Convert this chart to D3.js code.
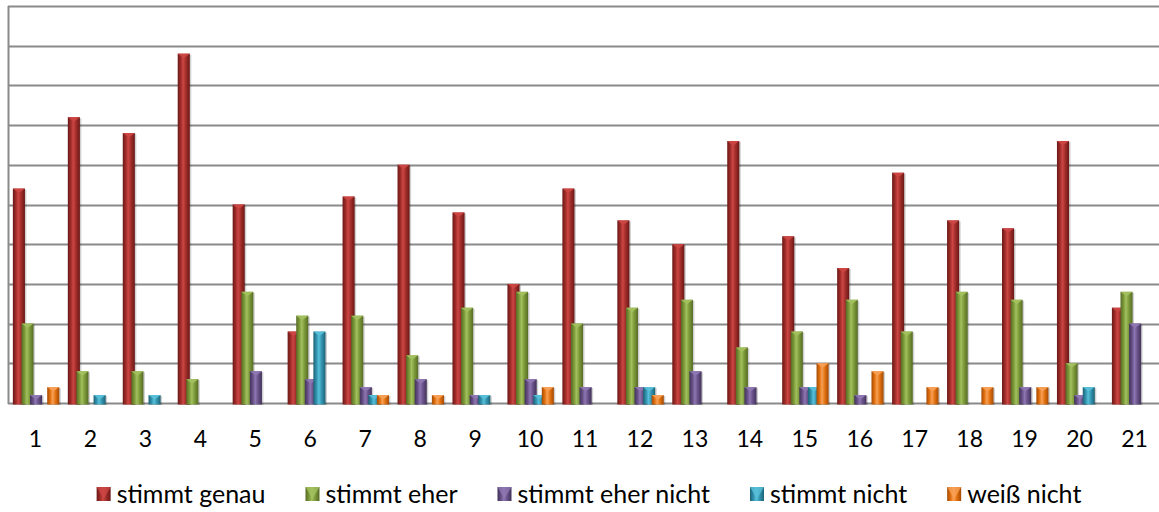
<!DOCTYPE html>
<html>
<head>
<meta charset="utf-8">
<script src="https://cdn.jsdelivr.net/npm/d3@7"></script>
<style>
  body { margin: 0; background: #fff; }
  svg { display: block; font-family: Lato, "Open Sans", sans-serif; }
  .tick-label { font-size: 23px; fill: #000; }
  .legend-label { font-size: 25px; fill: #000; }
</style>
</head>
<body>
<svg id="chart" width="1159" height="512"></svg>
<script>
// categories (question numbers)
const categories = d3.range(1, 22).map(String);

// series names
const seriesNames = ["stimmt genau", "stimmt eher", "stimmt eher nicht", "stimmt nicht", "weiß nicht"];

// values per series, one per question
const stimmtGenau     = [27, 36, 34, 44, 25, 9, 26, 30, 24, 15, 27, 23, 20, 33, 21, 17, 29, 23, 22, 33, 12];
const stimmtEher      = [10, 4, 4, 3, 14, 11, 11, 6, 12, 14, 10, 12, 13, 7, 9, 13, 9, 14, 13, 5, 14];
const stimmtEherNicht = [1, 0, 0, 0, 4, 3, 2, 3, 1, 3, 2, 2, 4, 2, 2, 1, 0, 0, 2, 1, 10];
const stimmtNicht     = [0, 1, 1, 0, 0, 9, 1, 0, 1, 1, 0, 2, 0, 0, 2, 0, 0, 0, 0, 2, 0];
const weissNicht      = [2, 0, 0, 0, 0, 0, 1, 1, 0, 2, 0, 1, 0, 0, 5, 4, 2, 2, 2, 0, 0];

const yTicks = d3.range(0, 55, 5);

const seriesValues = [stimmtGenau, stimmtEher, stimmtEherNicht, stimmtNicht, weissNicht];

// Office 2007 style colours: [dark edge, base, light]
const palette = [
  ["#6a1816", "#9e2c29", "#cc4643"],
  ["#566b25", "#7b9838", "#a2c05e"],
  ["#42325a", "#675086", "#8e77b2"],
  ["#1d6275", "#3192ad", "#59bfd9"],
  ["#a24a05", "#e2700e", "#f7a056"]
];

const svg = d3.select("#chart");
const width = 1159;
const margin = { left: 8, right: 0, top: 6, bottom: 109 };
const plotBottom = 512 - margin.bottom;

const x0 = d3.scaleBand()
  .domain(categories)
  .range([margin.left, width + 3])
  .padding(0);

const y = d3.scaleLinear()
  .domain([0, 50])
  .range([plotBottom, margin.top]);

const bw = x0.bandwidth();
const barW = bw * 0.22;
const x1 = d3.scalePoint()
  .domain(seriesNames)
  .range([0, bw * 0.625]);
const groupOffset = (bw - (bw * 0.625 + barW)) / 2 + 0.6;

// gradients
const defs = svg.append("defs");
palette.forEach((c, i) => {
  const g = defs.append("linearGradient")
    .attr("id", "grad" + i)
    .attr("x1", "0%").attr("x2", "100%").attr("y1", "0%").attr("y2", "0%");
  g.append("stop").attr("offset", "0%").attr("stop-color", c[0]);
  g.append("stop").attr("offset", "25%").attr("stop-color", c[1]);
  g.append("stop").attr("offset", "45%").attr("stop-color", c[2]);
  g.append("stop").attr("offset", "70%").attr("stop-color", c[1]);
  g.append("stop").attr("offset", "100%").attr("stop-color", c[0]);
});

// grid lines
svg.append("g")
  .selectAll("line")
  .data(yTicks)
  .join("line")
  .attr("x1", margin.left)
  .attr("x2", width)
  .attr("y1", d => Math.round(y(d)) + 0.5)
  .attr("y2", d => Math.round(y(d)) + 0.5)
  .attr("stroke", "#8a8a8a")
  .attr("stroke-width", 2);

// left axis line
svg.append("line")
  .attr("x1", margin.left + 0.5)
  .attr("x2", margin.left + 0.5)
  .attr("y1", y(50))
  .attr("y2", plotBottom + 1)
  .attr("stroke", "#8a8a8a")
  .attr("stroke-width", 2);

// bars, one group per series so later series sit on top
const barData = seriesNames.map((name, si) => categories.map((cat, ci) => ({
  name, si, cat, value: seriesValues[si][ci]
})).filter(d => d.value > 0));

const seriesG = svg.append("g")
  .selectAll("g")
  .data(barData)
  .join("g");

const bar = seriesG.selectAll("g")
  .data(d => d)
  .join("g")
  .attr("transform", d => `translate(${x0(d.cat) + groupOffset + x1(d.name)},0)`);

// soft shadow
bar.append("rect")
  .attr("x", 1.5)
  .attr("y", d => y(d.value) + 1)
  .attr("width", barW)
  .attr("height", d => plotBottom - y(d.value) + 1)
  .attr("fill", "#000")
  .attr("opacity", 0.18);

bar.append("rect")
  .attr("x", 0)
  .attr("y", d => y(d.value))
  .attr("width", barW)
  .attr("height", d => plotBottom - y(d.value) + 1.5)
  .attr("fill", d => `url(#grad${d.si})`);

// bevel on top
bar.append("path")
  .attr("d", d => {
    const t = y(d.value);
    return `M0,${t}H${barW}L${barW / 2},${t + 4.5}Z`;
  })
  .attr("fill", d => palette[d.si][2])
  .attr("opacity", 0.95);

// category labels
svg.append("g")
  .selectAll("text")
  .data(categories)
  .join("text")
  .attr("class", "tick-label")
  .attr("x", d => x0(d) + bw / 2)
  .attr("y", 447)
  .attr("text-anchor", "middle")
  .text(d => d);

// legend
const legend = svg.append("g");
const items = legend.selectAll("g")
  .data(seriesNames)
  .join("g");

const marker = 14;
items.append("rect")
  .attr("width", marker)
  .attr("height", marker)
  .attr("y", -marker / 2)
  .attr("fill", (d, i) => `url(#grad${i})`);
items.append("path")
  .attr("d", `M0,${-marker / 2}H${marker}L${marker / 2},${marker / 2 - 2}Z`)
  .attr("fill", (d, i) => palette[i][2])
  .attr("opacity", 0.8);
items.append("text")
  .attr("class", "legend-label")
  .attr("x", marker + 6)
  .attr("dy", "0.35em")
  .text(d => d);

let cx = 0;
const gap = 40;
const pos = [];
items.each(function () {
  const w = marker + 6 + this.querySelector("text").getComputedTextLength();
  pos.push(cx);
  cx += w + gap;
});
const total = cx - gap;
const startX = 589 - total / 2;
items.attr("transform", (d, i) => `translate(${startX + pos[i]},494)`);
</script>
</body>
</html>
